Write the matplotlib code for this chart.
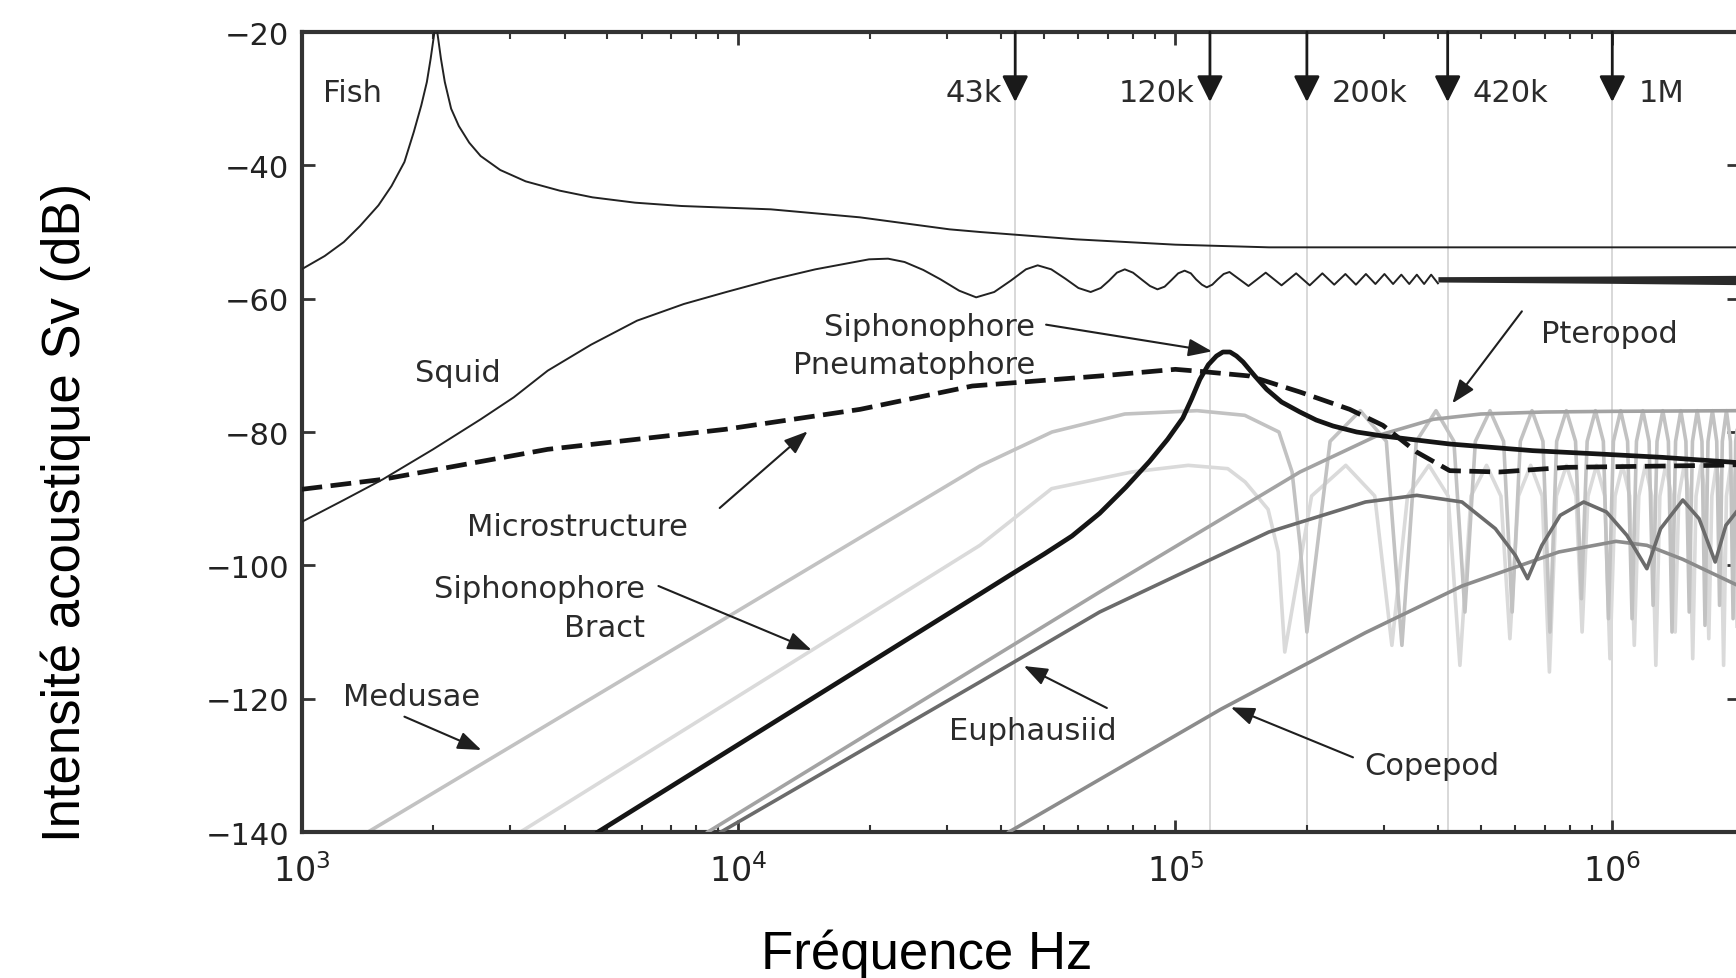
import matplotlib
matplotlib.use('Agg')
import matplotlib.pyplot as plt
from matplotlib.ticker import NullFormatter, LogLocator

# frequency (Hz) / volume backscattering (dB)
fish_f = [1000, 1130, 1250, 1361, 1500, 1607, 1720, 1807, 1880, 1936, 1975, 2005, 2030,
          2055, 2085, 2128, 2200, 2291, 2420, 2570, 2850, 3258, 3900, 4634, 5800, 7413,
          11860, 18970, 30410, 35730, 59290, 100000, 163700, 1950000]
fish_db = [-55.6, -53.6, -51.5, -49.1, -46.0, -43.1, -39.5, -35.0, -31.0, -27.5, -24.0, -21.0, -18.5,
           -21.0, -24.0, -27.5, -31.5, -34.1, -36.6, -38.6, -40.7, -42.4, -43.8, -44.8, -45.6, -46.1,
           -46.6, -47.8, -49.6, -50.0, -51.1, -51.9, -52.3, -52.3]

squid_f = [1000, 1250, 1535, 2000, 2570, 3060, 3660, 4600, 5860, 7500, 9380, 12000, 15000,
           19900, 22000, 24000, 26500, 29000, 32000, 35000, 38500, 42000, 45500, 48400, 52000,
           56000, 60000, 64000, 67500, 70500, 73500, 76600, 80000, 84000, 87500, 91000, 94500,
           98000, 101500, 105000, 108500, 111500, 115000, 118000, 121500, 125000, 129000, 133000,
           147000, 161000, 175000, 189000, 203000, 217000, 231000, 245000, 259000, 273000,
           287000, 301000, 315000, 329000, 343000, 357000, 371000, 385000, 399000]
squid_db = [-93.5, -90.2, -87.1, -82.6, -78.1, -74.8, -70.8, -66.9, -63.3, -60.8, -59.0, -57.1, -55.6,
            -54.1, -54.0, -54.5, -55.7, -57.1, -58.8, -59.8, -59.0, -57.3, -55.6, -55.0, -55.6,
            -57.0, -58.4, -59.0, -58.4, -57.3, -56.1, -55.6, -56.1, -57.2, -58.1, -58.6, -58.2,
            -57.2, -56.2, -55.8, -56.2, -57.1, -57.9, -58.3, -57.9, -57.1, -56.3, -56.0,
            -58.1, -56.1, -58.0, -56.2, -58.0, -56.2, -57.9, -56.3, -57.9, -56.3,
            -57.8, -56.3, -57.8, -56.4, -57.8, -56.4, -57.8, -56.4, -57.7]
# unresolved squid ripple above ~400 kHz
squid_band_f = [399000, 1000000, 1950000]
squid_band_lo = [-57.5, -57.7, -57.9]
squid_band_hi = [-56.7, -56.6, -56.5]

micro_f = [1000, 1535, 3660, 9330, 19000, 34300, 67100, 100000, 113800, 147900,
           192800, 250600, 298500, 356500, 424600, 552000, 785000, 1730000, 1950000]
micro_db = [-88.6, -87.1, -82.6, -79.6, -76.6, -73.1, -71.6, -70.6, -70.9, -71.6,
            -74.0, -76.6, -79.0, -83.0, -85.8, -86.0, -85.3, -85.0, -84.9]

pneu_f = [4770, 35700, 42000, 50100, 58000, 67100, 77000, 87300, 96000, 104000, 109000,
          113800, 119000, 124200, 128500, 133400, 138000, 142900, 152000, 161800, 175000,
          192800, 210000, 229600, 260000, 298500, 424600, 657700, 935000, 1300000, 1950000]
pneu_db = [-140.0, -104.3, -101.4, -98.3, -95.6, -92.2, -88.3, -84.4, -81.1, -77.9, -75.0,
           -72.1, -69.9, -68.6, -68.0, -68.0, -68.6, -69.5, -71.6, -73.6, -75.5,
           -77.0, -78.2, -79.1, -80.0, -80.6, -81.8, -82.8, -83.3, -83.8, -84.6]

med_f = [1420, 35700, 52200, 76600, 112200, 144200, 172600, 185000, 193000, 200000,
         226000, 265000, 304000, 330000, 356000, 395000, 434000, 460000,
         486000, 525000, 564000, 590000, 616000, 655000, 694000, 720000,
         746000, 785000, 824000, 850000, 876000, 915000, 954000, 980000,
         1006000, 1045000, 1084000, 1110000, 1136000, 1175000, 1214000, 1240000,
         1266000, 1305000, 1344000, 1370000, 1396000, 1435000, 1474000, 1500000,
         1526000, 1565000, 1604000, 1630000, 1656000, 1695000, 1734000, 1760000,
         1786000, 1825000, 1864000, 1890000, 1916000, 1955000]
med_db = [-140.0, -85.1, -80.0, -77.3, -76.8, -77.5, -80.0, -86.0, -97.0, -110.0,
          -81.4, -76.8, -81.4, -112.0, -81.4, -76.8, -81.4, -107.0,
          -81.4, -76.8, -81.4, -107.0, -81.4, -76.8, -81.4, -110.0,
          -81.4, -76.8, -81.4, -105.0, -81.4, -76.8, -81.4, -108.0,
          -81.4, -76.8, -81.4, -108.0, -81.4, -76.8, -81.4, -106.0,
          -81.4, -76.8, -81.4, -110.0, -81.4, -76.8, -81.4, -107.0,
          -81.4, -76.8, -81.4, -109.0, -81.4, -76.8, -81.4, -106.0,
          -81.4, -76.8, -81.4, -108.0, -81.4, -76.8]

bract_f = [3170, 35700, 52100, 79400, 107000, 131800, 144500, 163000, 172000, 178000,
           205000, 245500, 286000, 313000, 340000, 380500, 421000, 448000,
           475000, 515500, 556000, 583000, 610000, 650500, 691000, 718000,
           745000, 785500, 826000, 853000, 880000, 920500, 961000, 988000,
           1015000, 1055500, 1096000, 1123000, 1150000, 1190500, 1231000, 1258000,
           1285000, 1325500, 1366000, 1393000, 1420000, 1460500, 1501000, 1528000,
           1555000, 1595500, 1636000, 1663000, 1690000, 1730500, 1771000, 1798000,
           1825000, 1865500, 1906000, 1933000, 1960000]
bract_db = [-140.0, -97.0, -88.5, -86.0, -85.0, -85.5, -87.5, -91.6, -98.0, -113.0,
            -89.6, -85.0, -89.6, -112.0, -89.6, -85.0, -89.6, -115.0,
            -89.6, -85.0, -89.6, -111.0, -89.6, -85.0, -89.6, -116.0,
            -89.6, -85.0, -89.6, -110.0, -89.6, -85.0, -89.6, -114.0,
            -89.6, -85.0, -89.6, -112.0, -89.6, -85.0, -89.6, -115.0,
            -89.6, -85.0, -89.6, -110.0, -89.6, -85.0, -89.6, -114.0,
            -89.6, -85.0, -89.6, -111.0, -89.6, -85.0, -89.6, -115.0,
            -89.6, -85.0, -89.6, -112.0, -89.6]

pter_f = [8510, 67100, 192800, 288400, 389000, 500000, 700000, 1000000, 1950000]
pter_db = [-140.0, -104.0, -86.0, -80.6, -78.1, -77.3, -77.0, -76.9, -76.8]

euph_f = [9120, 35700, 67100, 163700, 272300, 357000, 453000, 540000, 600000, 640000,
          690000, 760000, 860000, 970000, 1080000, 1200000, 1290000, 1450000, 1580000,
          1720000, 1820000, 1950000]
euph_db = [-140.0, -117.5, -107.0, -95.0, -90.5, -89.5, -90.5, -94.5, -98.5, -102.0,
           -97.0, -92.5, -90.5, -92.0, -95.5, -100.5, -94.5, -90.2, -93.0,
           -99.5, -94.0, -91.5]

cope_f = [41600, 127000, 272300, 453000, 754000, 1020000, 1200000, 1450000, 1950000]
cope_db = [-140.0, -121.6, -110.1, -103.1, -98.0, -96.4, -97.0, -99.1, -103.1]

marker_f = [43e3, 120e3, 200e3, 420e3, 1e6]
marker_labels = ['43k', '120k', '200k', '420k', '1M']

yticks = [-140, -120, -100, -80, -60, -40, -20]

txt = '#2b2b2b'
fig = plt.figure(figsize=(17.36, 9.79), dpi=100)
ax = fig.add_axes([0.17368, 0.14913, 0.82805, 0.81716])
ax.set_xscale('log')
ax.set_xlim(1e3, 1.95e6)
ax.set_ylim(-140, -20)

# transducer frequencies
for f in marker_f:
    ax.axvline(f, color='#d2d2d2', lw=1.2, zorder=1)

ax.plot(bract_f, bract_db, color='#dadada', lw=2.6, zorder=2)
ax.plot(med_f, med_db, color='#c2c2c2', lw=2.6, zorder=2)
ax.plot(pter_f, pter_db, color='#a3a3a3', lw=2.6, zorder=3)
ax.plot(cope_f, cope_db, color='#8c8c8c', lw=2.6, zorder=3)
ax.plot(euph_f, euph_db, color='#6b6b6b', lw=2.6, zorder=3)
ax.plot(pneu_f, pneu_db, color='#151515', lw=3.4, zorder=4)
ax.plot(micro_f, micro_db, color='#151515', lw=3.4, dashes=(4.4, 1.8), zorder=4)
ax.plot(squid_f, squid_db, color='#222222', lw=1.4, zorder=4)
ax.fill_between(squid_band_f, squid_band_lo, squid_band_hi, color='#2a2a2a', lw=0, zorder=4)
ax.plot(fish_f, fish_db, color='#222222', lw=1.4, zorder=4)

# arrows at top for the echosounder frequencies
offs = [-13, -16, 25, 25, 26]
for f, lab, dx in zip(marker_f, marker_labels, offs):
    ax.annotate('', xy=(f, -30.5), xytext=(f, -20),
                arrowprops=dict(arrowstyle='-|>,head_length=0.8,head_width=0.4',
                                color='#1a1a1a', lw=2, mutation_scale=20,
                                shrinkA=0, shrinkB=0), zorder=5)
    ax.annotate(lab, xy=(f, -30.3), xytext=(dx, 0), textcoords='offset pixels',
                ha='right' if dx < 0 else 'left', va='baseline',
                fontsize=22, color=txt)

fs = 22
ax.text(1120, -30.3, 'Fish', fontsize=fs, color=txt, va='baseline')
ax.text(1820, -72.4, 'Squid', fontsize=fs, color=txt, va='baseline')
ax.text(47800, -65.5, 'Siphonophore', fontsize=fs, color=txt, va='baseline', ha='right')
ax.text(47800, -71.2, 'Pneumatophore', fontsize=fs, color=txt, va='baseline', ha='right')
ax.text(686000, -66.5, 'Pteropod', fontsize=fs, color=txt, va='baseline')
ax.text(4276, -95.4, 'Microstructure', fontsize=fs, color=txt, va='baseline', ha='center')
ax.text(6124, -104.7, 'Siphonophore', fontsize=fs, color=txt, va='baseline', ha='right')
ax.text(6124, -110.6, 'Bract', fontsize=fs, color=txt, va='baseline', ha='right')
ax.text(1245, -121.0, 'Medusae', fontsize=fs, color=txt, va='baseline')
ax.text(30300, -126.0, 'Euphausiid', fontsize=fs, color=txt, va='baseline')
ax.text(270000, -131.3, 'Copepod', fontsize=fs, color=txt, va='baseline')

arrows = [((50600, -63.9), (121300, -67.9)),
          ((621000, -61.9), (430500, -75.7)),
          ((9060, -91.4), (14400, -79.9)),
          ((6560, -103.1), (14700, -112.7)),
          ((1720, -122.7), (2580, -127.7)),
          ((69700, -121.4), (45000, -115.1)),
          ((255000, -128.8), (134000, -121.3))]
for tail, tip in arrows:
    ax.annotate('', xy=tip, xytext=tail,
                arrowprops=dict(arrowstyle='-|>,head_length=0.8,head_width=0.3',
                                color='#1f1f1f', lw=1.5, mutation_scale=18,
                                shrinkA=0, shrinkB=0), zorder=6)

ax.set_yticks(yticks)
ax.xaxis.set_major_locator(LogLocator(base=10, numticks=10))
ax.xaxis.set_minor_locator(LogLocator(base=10, subs=range(2, 10), numticks=20))
ax.xaxis.set_minor_formatter(NullFormatter())
ax.tick_params(which='major', direction='in', length=9, width=2, color='#333333',
               top=True, right=True, labelcolor='#222222', pad=9)
ax.tick_params(which='minor', direction='in', length=5, width=1.5, color='#333333',
               top=True, right=True)
ax.tick_params(axis='y', labelsize=22)
ax.tick_params(axis='x', labelsize=24, pad=15)
for s in ax.spines.values():
    s.set_linewidth(3)
    s.set_color('#333333')

fig.text(0.038, 0.477, 'Intensité acoustique Sv (dB)', rotation=90, ha='center',
         va='center', fontsize=38, family='Liberation Sans', color='black')
fig.text(0.5338, 0.0102, 'Fréquence Hz', ha='center', va='baseline',
         fontsize=38, family='Liberation Sans', color='black')

fig.savefig('out.png', dpi=100)
